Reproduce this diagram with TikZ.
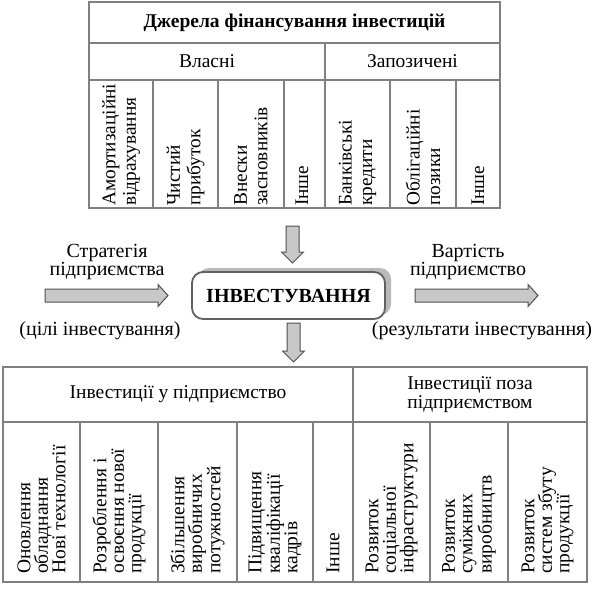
\documentclass[tikz,border=0pt]{standalone}
\usepackage{fontspec}
\setmainfont{Liberation Serif}
\usetikzlibrary{calc,shadows}
\definecolor{tabgray}{RGB}{128,128,128}
\definecolor{arrfill}{RGB}{200,200,200}
\definecolor{arrline}{RGB}{80,80,80}
\newcommand\darr[2]{\path[blockarrow] let \p1=(#1), \p2=(#2) in
  (\x1-6.5pt,\y1) -- (\x1+6.5pt,\y1) -- (\x1+6.5pt,\y2+11pt) -- (\x1+11pt,\y2+11pt)
  -- (\x1,\y2) -- (\x1-11pt,\y2+11pt) -- (\x1-6.5pt,\y2+11pt) -- cycle;}
\newcommand\rarr[2]{\path[blockarrow] let \p1=(#1), \p2=(#2) in
  (\x1,\y1+6.5pt) -- (\x2-10pt,\y1+6.5pt) -- (\x2-10pt,\y1+11pt) -- (\x2,\y1)
  -- (\x2-10pt,\y1-11pt) -- (\x2-10pt,\y1-6.5pt) -- (\x1,\y1-6.5pt) -- cycle;}
\tikzset{
  cell/.style={draw=tabgray, line width=2pt, inner sep=0pt},
  htext/.style={font=\fontsize{19.5}{19}\selectfont, align=center, inner sep=0pt},
  lbl/.style={font=\fontsize{20}{16.5}\selectfont, align=center, inner sep=0pt},
  vtop/.style={rotate=90, anchor=west, align=left, inner sep=0pt, font=\fontsize{19.3}{20.5}\selectfont},
  vbot/.style={rotate=90, anchor=west, align=left, inner sep=0pt, font=\fontsize{19.5}{17.5}\selectfont},
  blockarrow/.style={fill=arrfill, draw=arrline, line width=1pt, line join=miter},
  invbox/.style={draw=arrline!90, line width=1.8pt, fill=white, rounded corners=11pt,
    minimum width=193pt, minimum height=47pt, inner sep=0pt,
    font=\fontsize{20}{20}\selectfont\bfseries,
    general shadow={fill=gray!55, shadow xshift=6pt, shadow yshift=4pt}}
}
\begin{document}
\begin{tikzpicture}[x=1pt,y=-1pt]
\useasboundingbox (0,0) rectangle (593,588);
% ---------- top table ----------
\node[cell, minimum width=411pt, minimum height=41pt] (title) at (294.5,22.5)
  {\fontsize{19.5}{19.5}\selectfont\bfseries Джерела фінансування інвестицій};
\node[cell, minimum width=236pt, minimum height=37pt] (own) at (207,61.5)
  {\fontsize{19.5}{19.5}\selectfont Власні};
\node[cell, minimum width=175pt, minimum height=37pt] (borrow) at (412.5,61.5)
  {\fontsize{19.5}{19.5}\selectfont Запозичені};
\node[cell, minimum width=64pt, minimum height=128pt] (c1) at (121,144) {};
\node[cell, minimum width=65pt, minimum height=128pt] (c2) at (185.5,144) {};
\node[cell, minimum width=66pt, minimum height=128pt] (c3) at (251,144) {};
\node[cell, minimum width=41pt, minimum height=128pt] (c4) at (304.5,144) {};
\node[cell, minimum width=65pt, minimum height=128pt] (c5) at (357.5,144) {};
\node[cell, minimum width=66pt, minimum height=128pt] (c6) at (423,144) {};
\node[cell, minimum width=44pt, minimum height=128pt] (c7) at (478,144) {};
\node[vtop] (t1) at (121,206) {Амортизаційні\\відрахування};
\node[vtop] (t2) at (185.5,206) {Чистий\\прибуток};
\node[vtop] (t3) at (251,206) {Внески\\засновників};
\node[vtop] (t4) at (302,206) {Інше};
\node[vtop] (t5) at (357.5,206) {Банківські\\кредити};
\node[vtop] (t6) at (423,206) {Облігаційні\\позики};
\node[vtop] (t7) at (478,206) {Інше};
% ---------- centre ----------
\node[invbox] (inv) at (288.5,295.5) {ІНВЕСТУВАННЯ};
\coordinate (a1s) at (292.5,226);
\coordinate (a1e) at (292.5,263);
\coordinate (a2s) at (293.5,323);
\coordinate (a2e) at (293.5,362);
\coordinate (a3s) at (45,295.5);
\coordinate (a3e) at (168,295.5);
\coordinate (a4s) at (415,295.5);
\coordinate (a4e) at (538,295.5);
\darr{a1s}{a1e}
\darr{a2s}{a2e}
\rarr{a3s}{a3e}
\rarr{a4s}{a4e}
\node[lbl] (strat) at (107,262) {Стратегія\\підприємства};
\node[lbl] (goals) at (100,331) {(цілі інвестування)};
\node[lbl] (value) at (468,262) {Вартість\\підприємство};
\node[lbl] (res) at (482,331) {(результати інвестування)};
% ---------- bottom table ----------
\node[cell, minimum width=350pt, minimum height=55pt] (inside) at (178,394.5)
  {\fontsize{19.5}{19.5}\selectfont Інвестиції у підприємство};
\node[cell, minimum width=234pt, minimum height=55pt, htext] (outside) at (470,394.5)
  {Інвестиції поза\\підприємством};
\node[cell, minimum width=77pt, minimum height=160pt] (b1) at (41.5,502) {};
\node[cell, minimum width=78pt, minimum height=160pt] (b2) at (119,502) {};
\node[cell, minimum width=79pt, minimum height=160pt] (b3) at (197.5,502) {};
\node[cell, minimum width=76pt, minimum height=160pt] (b4) at (275,502) {};
\node[cell, minimum width=40pt, minimum height=160pt] (b5) at (333,502) {};
\node[cell, minimum width=77pt, minimum height=160pt] (b6) at (391.5,502) {};
\node[cell, minimum width=78pt, minimum height=160pt] (b7) at (469,502) {};
\node[cell, minimum width=79pt, minimum height=160pt] (b8) at (547.5,502) {};
\node[vbot] (s1) at (41.5,574) {Оновлення\\обладнання\\Нові технології};
\node[vbot] (s2) at (119,574) {Розроблення і\\освоєння нової\\продукції};
\node[vbot] (s3) at (197.5,574) {Збільшення\\виробничих\\потужностей};
\node[vbot] (s4) at (275,574) {Підвищення\\кваліфікації\\кадрів};
\node[vbot] (s5) at (333,574) {Інше};
\node[vbot] (s6) at (391.5,574) {Розвиток\\соціальної\\інфраструктури};
\node[vbot] (s7) at (469,574) {Розвиток\\суміжних\\виробництв};
\node[vbot] (s8) at (547.5,574) {Розвиток\\систем збуту\\продукції};
\end{tikzpicture}
\end{document}
